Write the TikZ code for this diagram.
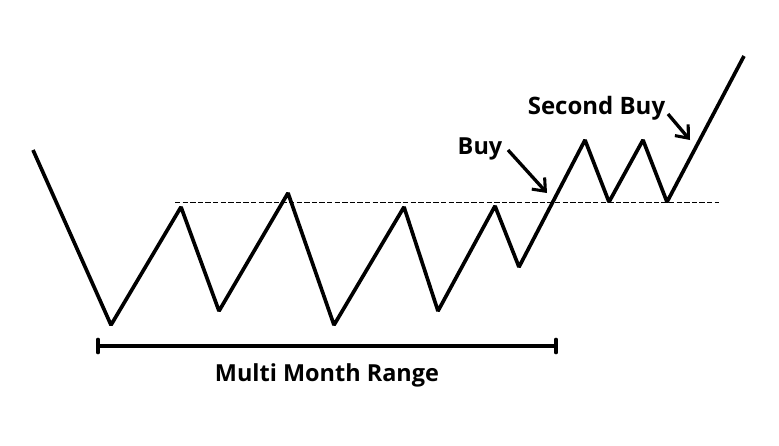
\documentclass[tikz,border=0pt]{standalone}
\usepackage{fontspec}
\setmainfont{Open Sans}
\usetikzlibrary{arrows.meta,calc}
\tikzset{
  priceline/.style={line width=2.75pt,line join=bevel,line cap=butt},
  lvl/.style={line width=1.25pt,dash pattern=on 4pt off 1.7pt},
  lab/.style={font=\fontsize{17.6}{20}\selectfont\bfseries,inner sep=0pt,anchor=center},
  sblab/.style={font=\fontsize{18}{20}\selectfont\bfseries,inner sep=0pt,anchor=center},
  arr/.style={line width=2.5pt,-{Straight Barb[length=8pt,width=13pt,line width=2.3pt]}},
  rng/.style={line width=2.75pt}
}
\begin{document}
\begin{tikzpicture}[x=0.75pt,y=-0.75pt]
\useasboundingbox (0,0) rectangle (779,446);
\coordinate (p0) at (33,150);
\coordinate (p1) at (111,325);
\coordinate (p2) at (181,207);
\coordinate (p3) at (219,311);
\coordinate (p4) at (288,193);
\coordinate (p5) at (334,325);
\coordinate (p6) at (404,207);
\coordinate (p7) at (438,311);
\coordinate (p8) at (495,206);
\coordinate (p9) at (519,267);
\coordinate (p10) at (585,140);
\coordinate (p11) at (609,202);
\coordinate (p12) at (643,140);
\coordinate (p13) at (667,202);
\coordinate (p14) at (744,56);
\coordinate (d0) at (175,202.5);
\coordinate (d1) at (719,202.5);
\coordinate (r0) at (98,346);
\coordinate (r1) at (556,346);
\draw[lvl] (d0) -- (d1);
\draw[priceline] (p0)--(p1)--(p2)--(p3)--(p4)--(p5)--(p6)--(p7)--(p8)--(p9)--(p10)--(p11)--(p12)--(p13)--(p14);
\draw[rng] (r0) -- (r1);
\draw[rng,line cap=round] ($(r0)+(0,-6.5)$) -- ($(r0)+(0,6.5)$);
\draw[rng,line cap=round] ($(r1)+(0,-6.5)$) -- ($(r1)+(0,6.5)$);
\node[lab] (mm) at (327,375.5) {Multi Month Range};
\node[lab] (buy) at (480,148.5) {Buy};
\node[sblab] (sb) at (596.5,108.5) {Second Buy};
\coordinate (a0) at (508,150);
\coordinate (a1) at (547,193);
\coordinate (b0) at (668,114);
\coordinate (b1) at (690,140);
\draw[arr] (a0) -- (a1);
\draw[arr] (b0) -- (b1);
\end{tikzpicture}
\end{document}
